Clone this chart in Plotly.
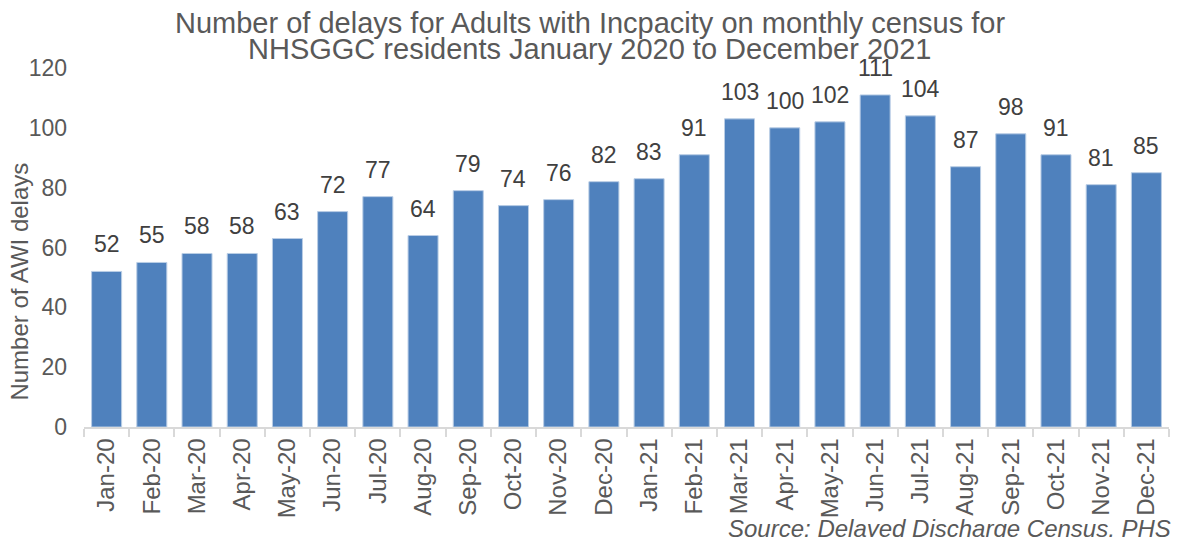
import plotly.graph_objects as go

months = ["Jan-20", "Feb-20", "Mar-20", "Apr-20", "May-20", "Jun-20", "Jul-20", "Aug-20",
          "Sep-20", "Oct-20", "Nov-20", "Dec-20", "Jan-21", "Feb-21", "Mar-21", "Apr-21",
          "May-21", "Jun-21", "Jul-21", "Aug-21", "Sep-21", "Oct-21", "Nov-21", "Dec-21"]
delays = [52, 55, 58, 58, 63, 72, 77, 64, 79, 74, 76, 82,
          83, 91, 103, 100, 102, 111, 104, 87, 98, 91, 81, 85]
y_ticks = [0, 20, 40, 60, 80, 100, 120]
title_lines = ["Number of delays for Adults with Incpacity on monthly census for",
               "NHSGGC residents January 2020 to December 2021"]
y_title = "Number of AWI delays"
source = "Source: Delayed Discharge Census, PHS"

FONT = "Liberation Sans, Arial, sans-serif"
GREY = "#595959"
DARK = "#404040"

fig = go.Figure()
fig.add_trace(go.Bar(
    x=months, y=delays,
    marker=dict(color="#4F81BD", line=dict(color="#B9CDE5", width=1)),
    hoverinfo="x+y",
))

annotations = []
for m, v in zip(months, delays):
    annotations.append(dict(
        x=m, y=v, xref="x", yref="y", text=str(v), showarrow=False,
        xanchor="center", yanchor="bottom", yshift=12,
        font=dict(family=FONT, size=23, color=DARK),
    ))

annotations.append(dict(text=title_lines[0], xref="paper", yref="paper", x=0.466, y=1.1248,
                        xanchor="center", yanchor="middle", showarrow=False,
                        font=dict(family=FONT, size=29, color=GREY)))
annotations.append(dict(text=title_lines[1], xref="paper", yref="paper", x=0.466, y=1.0524,
                        xanchor="center", yanchor="middle", showarrow=False,
                        font=dict(family=FONT, size=29, color=GREY)))
annotations.append(dict(text=y_title, xref="paper", yref="paper", x=-0.059, y=0.405,
                        xanchor="center", yanchor="middle", textangle=-90, showarrow=False,
                        font=dict(family=FONT, size=24, color=GREY)))
annotations.append(dict(text="<i>" + source + "</i>", xref="paper", yref="paper", x=1.004, y=-0.283,
                        xanchor="right", yanchor="middle", showarrow=False,
                        font=dict(family=FONT, size=24, color=GREY)))

fig.update_layout(
    width=1182, height=537,
    paper_bgcolor="white", plot_bgcolor="white",
    margin=dict(l=84, r=13, t=68, b=110, autoexpand=False),
    bargap=0.336,
    showlegend=False,
    font=dict(family=FONT, color=GREY),
    annotations=annotations,
    xaxis=dict(
        type="category", tickangle=-90, automargin=False,
        tickfont=dict(family=FONT, size=24, color=GREY),
        showline=True, linecolor="#D9D9D9", linewidth=1.5,
        ticks="outside", tickson="boundaries", ticklen=8, tickcolor="#D9D9D9", tickwidth=1.5,
        showgrid=False,
    ),
    yaxis=dict(
        range=[0, 120], tickvals=y_ticks, automargin=False,
        tickfont=dict(family=FONT, size=23, color=GREY),
        ticklabelstandoff=16,
        showgrid=False, showline=False, zeroline=False,
    ),
)

fig.write_html("out.html", config={"displayModeBar": False},
               post_script="document.body.style.margin='0px';")
